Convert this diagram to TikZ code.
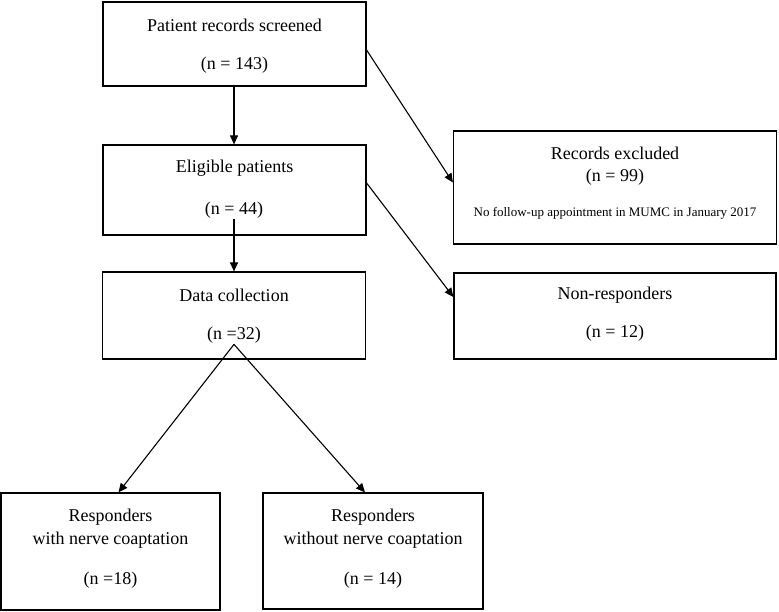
\documentclass[tikz,border=0pt]{standalone}
\usepackage{fontspec}
\setmainfont{Liberation Serif}
\usetikzlibrary{arrows.meta}
\begin{document}
\begin{tikzpicture}[x=1pt,y=-1pt,
  box/.style={draw=black,line width=1.2pt,inner sep=0pt},
  txt/.style={inner sep=1pt,font=\fontsize{18}{23}\selectfont,align=center},
  small/.style={inner sep=1pt,font=\fontsize{13}{15}\selectfont},
  arr/.style={line width=1.1pt,-{Triangle[length=9pt,width=8pt]}}]
\useasboundingbox (0,0) rectangle (779,611);
% boxes
\node[box,minimum width=263pt,minimum height=84pt] (b1) at (234.5,44) {};
\node[box,minimum width=263pt,minimum height=90pt] (b2) at (234.5,190) {};
\node[box,minimum width=263pt,minimum height=87pt] (b3) at (234,315.5) {};
\node[box,minimum width=323pt,minimum height=113pt] (b4) at (615,187.5) {};
\node[box,minimum width=322pt,minimum height=86pt] (b5) at (615,316) {};
\node[box,minimum width=219pt,minimum height=117pt] (b6) at (110.5,551.5) {};
\node[box,minimum width=220pt,minimum height=116pt] (b7) at (373,551) {};
% texts
\node[txt] (t1) at (234.5,25) {Patient records screened};
\node[txt] (n1) at (234.5,65) {(n = 143)};
\node[txt] (t2) at (234.5,168) {Eligible patients};
\node[txt] (n2) at (234,210) {(n = 44)};
\node[txt] (t3) at (234,295) {Data collection};
\node[txt] (n3) at (234,335) {(n =32)};
\node[txt] (t4) at (615,153) {Records excluded};
\node[txt] (n4) at (615,177) {(n = 99)};
\node[small] (s4) at (615,213) {No follow-up appointment in MUMC in January 2017};
\node[txt] (t5) at (615,295) {Non-responders};
\node[txt] (n5) at (615,333) {(n = 12)};
\node[txt] (t6) at (110.5,529) {Responders\\with nerve coaptation};
\node[txt] (n6) at (110.5,580) {(n =18)};
\node[txt] (t7) at (373,529) {Responders\\without nerve coaptation};
\node[txt] (n7) at (373,580) {(n = 14)};
% connectors
\draw[arr] (b1.south -| n2) -- (b2.north -| n2);
\draw[arr] (n2.south) -- (b3.north -| n2);
\draw[arr] ([yshift=-6pt]b1.east) -- ([yshift=5pt]b4.west);
\draw[arr] ([yshift=7pt]b2.east) -- ([yshift=19pt]b5.west);
\draw[arr] (n3.south) -- ([xshift=8pt]b6.north);
\draw[arr] (n3.south) -- ([xshift=-8pt]b7.north);
\end{tikzpicture}
\end{document}
